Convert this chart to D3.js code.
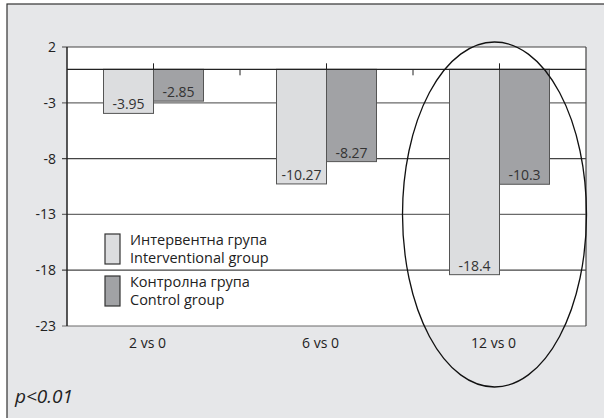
<!DOCTYPE html>
<html>
<head>
<meta charset="utf-8">
<style>
  body { margin: 0; background: #fff; }
  svg { display: block; font-family: "Open Sans", "DejaVu Sans", sans-serif; }
</style>
</head>
<body>
<svg id="svg" width="604" height="418"></svg>
<script src="https://d3js.org/d3.v7.min.js"></script>
<script>
    const categories = ["2 vs 0", "6 vs 0", "12 vs 0"];
    const interventional = [-3.95, -10.27, -18.4];
    const control = [-2.85, -8.27, -10.3];
    const seriesNames = [["Интервентна група", "Interventional group"], ["Контролна група", "Control group"]];
    const yTicks = [2, -3, -8, -13, -18, -23];
    const colors = ["#dcdddf", "#a1a2a5"];

    const svg = d3.select("#svg");
    const margin = {left: 67, top: 47, right: 586, bottom: 326};

    // panel background and frame
    svg.append("rect").attr("x", 0).attr("y", 0).attr("width", 604).attr("height", 418).attr("fill", "#fff");
    svg.append("rect").attr("x", 7).attr("y", 4).attr("width", 604).attr("height", 420)
        .attr("fill", "#e6e7e9").attr("stroke", "#333").attr("stroke-width", 1.2);

    const y = d3.scaleLinear().domain([-23, 2]).range([margin.bottom, margin.top]);
    const x = d3.scaleBand().domain(categories).range([margin.left, margin.right]);
    const x1 = d3.scaleBand().domain([0, 1]).range([0, 100]);
    const barOffset = (x.bandwidth() - 100) / 2;

    svg.append("rect").attr("x", margin.left).attr("y", margin.top)
        .attr("width", margin.right - margin.left).attr("height", margin.bottom - margin.top)
        .attr("fill", "#fff");

    // gridlines
    svg.selectAll("line.grid").data(yTicks).enter().append("line")
        .attr("x1", margin.left - 5).attr("x2", margin.right)
        .attr("y1", function(d) { return y(d); }).attr("y2", function(d) { return y(d); })
        .attr("stroke", function(d, i) { return i % 2 === 0 ? "#444" : "#6a6a6a"; })
        .attr("stroke-width", 1.2);

    // y labels
    svg.selectAll("text.ytick").data(yTicks).enter().append("text")
        .attr("x", 56).attr("y", function(d) { return y(d) + 5; })
        .attr("text-anchor", "end").attr("font-size", 14).attr("fill", "#222")
        .text(function(d) { return d; });

    // bars
    const rows = categories.map(function(c, i) { return {cat: c, vals: [interventional[i], control[i]]}; });
    const groups = svg.selectAll("g.grp").data(rows).enter().append("g")
        .attr("transform", function(d) { return "translate(" + (x(d.cat) + barOffset) + ",0)"; });

    groups.selectAll("rect").data(function(d) { return d.vals; }).enter().append("rect")
        .attr("x", function(d, i) { return x1(i); })
        .attr("y", y(0))
        .attr("width", x1.bandwidth())
        .attr("height", function(d) { return y(d) - y(0); })
        .attr("fill", function(d, i) { return colors[i]; })
        .attr("stroke", "#555").attr("stroke-width", 1);

    groups.selectAll("text").data(function(d) { return d.vals; }).enter().append("text")
        .attr("x", function(d, i) { return x1(i) + x1.bandwidth() / 2; })
        .attr("y", function(d) { return y(d) - 4; })
        .attr("text-anchor", "middle").attr("font-size", 14).attr("fill", "#333")
        .text(function(d) { return d; });

    // zero line, borders
    svg.append("line").attr("x1", margin.left).attr("x2", margin.right)
        .attr("y1", y(0)).attr("y2", y(0)).attr("stroke", "#222").attr("stroke-width", 1.2);
    svg.append("line").attr("x1", margin.right).attr("x2", margin.right)
        .attr("y1", margin.top).attr("y2", margin.bottom).attr("stroke", "#444").attr("stroke-width", 1.2);
    svg.append("line").attr("x1", margin.left).attr("x2", margin.left)
        .attr("y1", margin.top).attr("y2", margin.bottom).attr("stroke", "#222").attr("stroke-width", 1.5);

    // category ticks
    svg.selectAll("line.ctr").data(categories).enter().append("line")
        .attr("x1", function(d) { return x(d) + x.bandwidth() / 2; })
        .attr("x2", function(d) { return x(d) + x.bandwidth() / 2; })
        .attr("y1", y(0) - 6).attr("y2", y(0)).attr("stroke", "#222");
    svg.selectAll("line.bnd").data(categories.slice(1)).enter().append("line")
        .attr("x1", function(d) { return x(d); }).attr("x2", function(d) { return x(d); })
        .attr("y1", y(0)).attr("y2", y(0) + 6).attr("stroke", "#222");

    // x labels
    svg.selectAll("text.xl").data(categories).enter().append("text")
        .attr("x", function(d) { return x(d) + x.bandwidth() / 2 - 6; })
        .attr("y", 348).attr("text-anchor", "middle").attr("font-size", 14).attr("fill", "#222")
        .text(function(d) { return d; });

    // legend
    const legend = svg.selectAll("g.leg").data(seriesNames).enter().append("g")
        .attr("transform", function(d, i) { return "translate(105," + (234 + i * 42) + ")"; });
    legend.append("rect").attr("width", 15).attr("height", 30)
        .attr("fill", function(d, i) { return colors[i]; }).attr("stroke", "#333").attr("stroke-width", 1.2);
    legend.append("text").attr("x", 25).attr("y", 11).attr("font-size", 14.5).attr("fill", "#222")
        .text(function(d) { return d[0]; });
    legend.append("text").attr("x", 25).attr("y", 29).attr("font-size", 14.5).attr("fill", "#222")
        .text(function(d) { return d[1]; });

    // highlight ellipse
    svg.append("ellipse").attr("cx", x("12 vs 0") + x.bandwidth() / 2 - 5).attr("cy", 214.5)
        .attr("rx", 92).attr("ry", 172.5)
        .attr("fill", "none").attr("stroke", "#111").attr("stroke-width", 1.3);

    svg.append("text").attr("x", 15).attr("y", 403).attr("font-size", 19)
        .attr("font-style", "italic").attr("fill", "#222").text("p<0.01");
</script>
</body>
</html>
